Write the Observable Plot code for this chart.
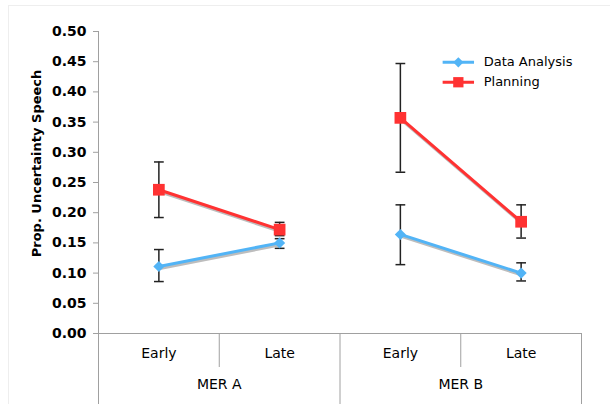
<!DOCTYPE html>
<html>
<head>
<meta charset="utf-8">
<script src="https://cdn.jsdelivr.net/npm/d3@7"></script>
<script src="https://cdn.jsdelivr.net/npm/@observablehq/plot@0.6"></script>
<style>
  html, body { margin: 0; padding: 0; background: #fff; }
  #wrap { position: relative; width: 610px; height: 404px; overflow: hidden; }
  #frame { position: absolute; left: 8px; top: 5px; width: 700px; height: 500px; border-left: 1px solid #eee; border-top: 1px solid #eee; }
  #chart { position: absolute; left: 0; top: 0; }
  svg { display: block; }
</style>
</head>
<body>
<div id="wrap"><div id="frame"></div><div id="chart"></div></div>
<script>
// ---- data ----
const groups = ["MER A", "MER B"];
const phases = ["Early", "Late"];
const series = ["Data Analysis", "Planning"];
const colors = ["#52b4f6", "#ff3232"];
const symbols = ["diamond2", "square"];

const dataAnalysis   = [0.111, 0.150, 0.164, 0.100];
const dataAnalysisLo = [0.086, 0.141, 0.114, 0.087];
const dataAnalysisHi = [0.139, 0.157, 0.213, 0.117];
const planning       = [0.238, 0.172, 0.357, 0.185];
const planningLo     = [0.192, 0.162, 0.267, 0.158];
const planningHi     = [0.284, 0.184, 0.447, 0.213];

const yTicks = [0, 0.05, 0.10, 0.15, 0.20, 0.25, 0.30, 0.35, 0.40, 0.45, 0.50];
const yLabel = "Prop. Uncertainty Speech";

// ---- build table ----
const values = [dataAnalysis, planning];
const los = [dataAnalysisLo, planningLo];
const his = [dataAnalysisHi, planningHi];
const rows = [];
series.forEach((s, si) => {
  groups.forEach((g, gi) => {
    phases.forEach((p, pi) => {
      const i = gi * phases.length + pi;
      rows.push({series: s, group: g, phase: p, pos: i + 0.5, key: s + "|" + g,
                 value: values[si][i], lo: los[si][i], hi: his[si][i]});
    });
  });
});
const cells = groups.flatMap((g, gi) => phases.map((p, pi) => ({pos: gi * phases.length + pi + 0.5, label: p})));
const groupCells = groups.map((g, gi) => ({pos: gi * phases.length + phases.length / 2, label: g}));
const nCells = groups.length * phases.length;

// legend layout (in chart units)
const legend = series.map((s, i) => ({series: s, x1: 2.85, x2: 3.11, xm: 2.98, xt: 3.19, y: 0.449 - i * 0.033}));

const markerR = [5.0, 6.6];
const legendR = [4.6, 5.8];

const capSymbol = { draw(context, size) { const w = Math.sqrt(size) / 2; context.moveTo(-w, 0); context.lineTo(w, 0); } };

const markerMarks = series.flatMap((s, si) => [
  Plot.dot(rows.filter(d => d.series === s), { x: "pos", y: "value", symbol: "series", fill: "series", r: markerR[si], stroke: "none" }),
  Plot.dot(legend.filter(d => d.series === s), { x: "xm", y: "y", symbol: "series", fill: "series", r: legendR[si], stroke: "none" })
]);

const chart = Plot.plot({
  width: 610,
  height: 404,
  marginLeft: 98,
  marginRight: 29,
  marginTop: 31,
  marginBottom: 71,
  style: { fontFamily: "DejaVu Sans, Verdana, sans-serif", fontSize: "14px", background: "transparent", overflow: "visible" },
  x: { type: "linear", domain: [0, nCells], label: null },
  y: { type: "linear", domain: [0, 0.5], label: null },
  color: { domain: series, range: colors },
  symbol: { domain: series, range: symbols },
  marks: [
    // y axis
    Plot.axisY({ ticks: yTicks, tickFormat: d3.format(".2f"), tickSize: 5, tickPadding: 7, stroke: "#a0a0a0", fill: "#000", fontWeight: "bold", fontSize: 14, label: null }),
    Plot.ruleX([0], { y1: 0, y2: 0.5, stroke: "#a0a0a0" }),
    Plot.ruleY([0], { stroke: "#a0a0a0" }),
    Plot.text([yLabel], { frameAnchor: "left", textAnchor: "middle", dx: -62, dy: -19, rotate: -90, fontWeight: "bold", fontSize: 13, fill: "#000" }),
    // category dividers
    Plot.axisX({ ticks: d3.range(1, nCells, phases.length), tickSize: 34, tickFormat: () => "", stroke: "#a0a0a0", label: null }),
    Plot.axisX({ ticks: d3.range(0, nCells + 1, phases.length), tickSize: 71, tickFormat: () => "", stroke: "#a0a0a0", label: null }),
    // category labels
    Plot.axisX({ ticks: cells.map(d => d.pos), tickSize: 0, tickPadding: 15, tickFormat: (d) => cells.find(c => c.pos === d).label, fontSize: 14, fill: "#000", label: null }),
    Plot.axisX({ ticks: groupCells.map(d => d.pos), tickSize: 0, tickPadding: 46, tickFormat: (d) => groupCells.find(c => c.pos === d).label, fontSize: 14, fill: "#000", label: null }),
    // error bars
    Plot.ruleX(rows, { x: "pos", y1: "lo", y2: "hi", stroke: "#222", strokeWidth: 1.5 }),
    Plot.dot(rows, { x: "pos", y: "lo", symbol: capSymbol, r: 5.5, stroke: "#222", strokeWidth: 1.5 }),
    Plot.dot(rows, { x: "pos", y: "hi", symbol: capSymbol, r: 5.5, stroke: "#222", strokeWidth: 1.5 }),
    // shadow + lines
    Plot.line(rows, { x: "pos", y: "value", z: "key", stroke: "#bdbdbd", strokeWidth: 3, dx: 1, dy: 2 }),
    Plot.line(rows, { x: "pos", y: "value", z: "key", stroke: "series", strokeWidth: 3 }),
    // legend lines + text
    Plot.link(legend, { x1: "x1", x2: "x2", y1: "y", y2: "y", stroke: "series", strokeWidth: 3 }),
    Plot.text(legend, { x: "xt", y: "y", text: "series", textAnchor: "start", fontSize: 13, fill: "#000" }),
    ...markerMarks
  ]
});
document.getElementById("chart").appendChild(chart);
</script>
</body>
</html>
